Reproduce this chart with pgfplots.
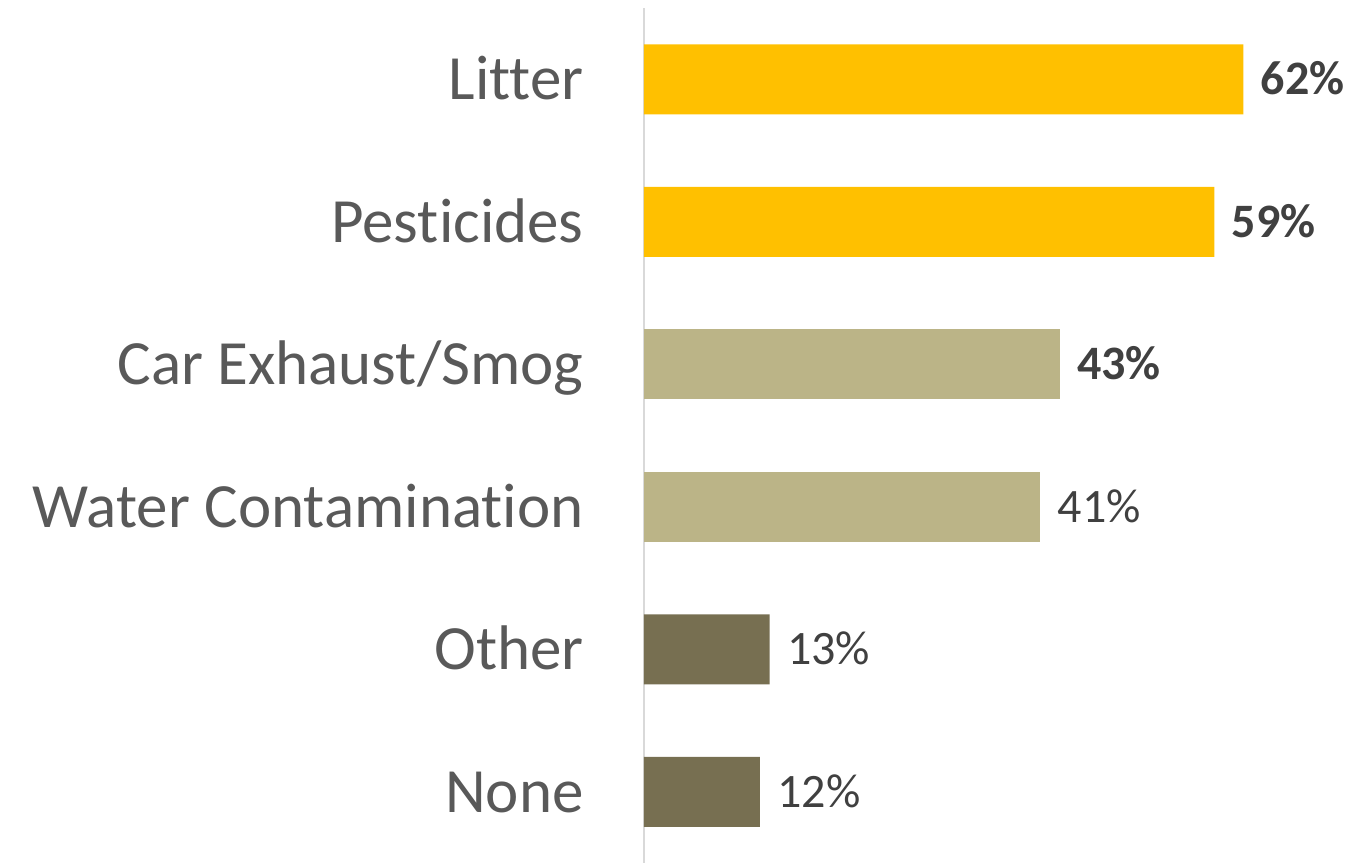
\documentclass[border=0pt]{standalone}
\usepackage{fontspec}
\setmainfont[Ligatures=NoCommon]{Carlito}
\usepackage{pgfplots}
\pgfplotsset{compat=1.18}

\definecolor{gold}{HTML}{FFC000}
\definecolor{tan}{HTML}{BBB487}
\definecolor{olive}{HTML}{776F51}
\definecolor{catgray}{HTML}{595959}
\definecolor{lblgray}{HTML}{404040}
\definecolor{axgray}{HTML}{D9D9D9}

\begin{document}
\begin{tikzpicture}
  \useasboundingbox (-322pt,0pt) rectangle (360.5pt,431.5pt);
  \begin{axis}[
    at={(0pt,0pt)}, anchor=south west,
    scale only axis,
    width=348pt, height=427.5pt,
    xmin=0, xmax=72,
    ymin=-0.5, ymax=5.5,
    y dir=reverse,
    xbar, bar width=35pt, bar shift=0pt,
    hide x axis,
    axis y line*=left,
    y axis line style={draw=axgray, line width=1pt},
    ytick={0,...,5},
    yticklabels={Litter, Pesticides, Car Exhaust/Smog, Water Contamination, Other, None},
    major tick length=0pt,
    yticklabel style={font=\fontsize{31.5}{36}\selectfont, text=catgray,
      inner sep=0pt, anchor=base east, xshift=-30pt, yshift=-10.2pt},
    clip=false,
    /pgf/number format/assume math mode=true,
    nodes near coords={\pgfmathprintnumber{\pgfplotspointmeta}\%},
    nodes near coords align={horizontal},
    every node near coord/.append style={font=\fontsize{24}{28}\selectfont,
      text=lblgray, inner sep=0pt, xshift=8.5pt, anchor=base west, yshift=-7.7pt},
  ]
    \addplot[fill=gold, draw=none,
      every node near coord/.append style={font=\fontsize{24}{28}\selectfont\bfseries}]
      coordinates {(62,0) (59,1)};
    \addplot[fill=tan, draw=none,
      every node near coord/.append style={font=\fontsize{24}{28}\selectfont\bfseries}]
      coordinates {(43,2)};
    \addplot[fill=tan, draw=none] coordinates {(41,3)};
    \addplot[fill=olive, draw=none] coordinates {(13,4) (12,5)};
  \end{axis}
\end{tikzpicture}
\end{document}
